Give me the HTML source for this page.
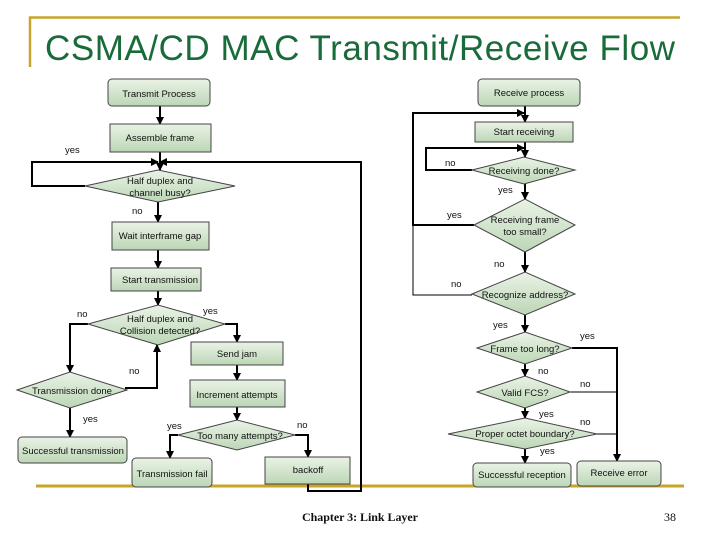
<!DOCTYPE html>
<html><head><meta charset="utf-8"><style>
html,body{margin:0;padding:0;background:#fff}
svg{display:block}
text{font-family:"Liberation Sans",sans-serif;font-size:9.5px;fill:#111}
.t{text-anchor:middle}
</style></head><body>
<svg width="720" height="540" viewBox="0 0 720 540" xmlns="http://www.w3.org/2000/svg">
<defs>
<linearGradient id="g" x1="0" y1="0" x2="0" y2="1"><stop offset="0" stop-color="#eaf3e6"/><stop offset="1" stop-color="#bcd6b6"/></linearGradient>
<marker id="a" markerWidth="8" markerHeight="8" refX="7" refY="4" orient="auto" markerUnits="userSpaceOnUse"><path d="M0,0 L8,4 L0,8 z" fill="#000"/></marker>
</defs>
<!-- frame -->
<path d="M30,67 V17.5 H680" stroke="#c7a52d" stroke-width="2.5" fill="none"/>
<line x1="36" y1="486" x2="684" y2="486" stroke="#c7a52d" stroke-width="3"/>
<text x="45" y="60" style="font-size:35px;fill:#1a6b3a" textLength="630">CSMA/CD MAC Transmit/Receive Flow</text>
<text x="302" y="521" style="font-family:'Liberation Serif',serif;font-weight:bold;font-size:12px" textLength="116">Chapter 3: Link Layer</text>
<text x="664" y="521" style="font-family:'Liberation Serif',serif;font-size:12px">38</text>

<g stroke="#000" stroke-width="2" fill="none">
<!-- transmit connectors -->
<line x1="160" y1="106" x2="160" y2="124" marker-end="url(#a)"/>
<line x1="160" y1="152" x2="160" y2="170" marker-end="url(#a)"/>
<path d="M85,186 H32 V162 H158" marker-end="url(#a)"/>
<line x1="158" y1="202" x2="158" y2="222" marker-end="url(#a)"/>
<line x1="158" y1="250" x2="158" y2="268" marker-end="url(#a)"/>
<line x1="158" y1="291" x2="158" y2="305" marker-end="url(#a)"/>
<path d="M88,324 H70 V372" marker-end="url(#a)"/>
<path d="M125,388 H157 V345" marker-end="url(#a)"/>
<line x1="70" y1="408" x2="70" y2="437" marker-end="url(#a)"/>
<path d="M225,324 H237 V342" marker-end="url(#a)"/>
<line x1="237" y1="365" x2="237" y2="380" marker-end="url(#a)"/>
<line x1="237" y1="407" x2="237" y2="420" marker-end="url(#a)"/>
<path d="M178,435 H170 V458" marker-end="url(#a)"/>
<path d="M295,435 H308 V457" marker-end="url(#a)"/>
<path d="M308,484 V491 H361 V162 H160" marker-end="url(#a)"/>
<!-- receive connectors -->
<line x1="525" y1="106" x2="525" y2="122" marker-end="url(#a)"/>
<path d="M474,225 H413 V113 H524" marker-end="url(#a)"/>
<path d="M472,295 H413 V225" stroke-width="1"/>
<line x1="525" y1="142" x2="525" y2="157" marker-end="url(#a)"/>
<path d="M472,170 H426 V148 H524" marker-end="url(#a)"/>
<line x1="525" y1="184" x2="525" y2="199" marker-end="url(#a)"/>
<line x1="525" y1="252" x2="525" y2="272" marker-end="url(#a)"/>
<line x1="525" y1="315" x2="525" y2="332" marker-end="url(#a)"/>
<line x1="525" y1="364" x2="525" y2="376" marker-end="url(#a)"/>
<line x1="525" y1="408" x2="525" y2="418" marker-end="url(#a)"/>
<line x1="525" y1="449" x2="525" y2="463" marker-end="url(#a)"/>
<path d="M572,348 H617 V461" marker-end="url(#a)"/>
<line x1="570" y1="392" x2="617" y2="392" stroke-width="1"/>
<line x1="597" y1="434" x2="617" y2="434" stroke-width="1"/>
</g>

<g fill="url(#g)" stroke="#444" stroke-width="1">
<!-- rounded terminals -->
<rect x="108" y="79" width="102" height="27" rx="4"/>
<rect x="478" y="79" width="102" height="27" rx="4"/>
<rect x="18" y="437" width="109" height="26" rx="4"/>
<rect x="132" y="458" width="80" height="29" rx="4"/>
<rect x="473" y="463" width="98" height="24" rx="4"/>
<rect x="577" y="461" width="84" height="25" rx="4"/>
<!-- process boxes -->
<rect x="110" y="124" width="101" height="28"/>
<rect x="112" y="222" width="97" height="28"/>
<rect x="111" y="268" width="90" height="23"/>
<rect x="191" y="342" width="92" height="23"/>
<rect x="190" y="380" width="95" height="27"/>
<rect x="265" y="457" width="85" height="27"/>
<rect x="475" y="122" width="98" height="20"/>
<!-- diamonds -->
<polygon points="85,186 158,170 235,186 158,202"/>
<polygon points="88,324 158,305 225,324 158,345"/>
<polygon points="17,390 70,372 127,390 70,408"/>
<polygon points="178,435 237,420 295,435 237,450"/>
<polygon points="472,170 524,157 575,170 524,184"/>
<polygon points="474,225 525,199 575,225 525,252"/>
<polygon points="472,294 525,272 575,294 525,315"/>
<polygon points="477,348 525,332 572,348 525,364"/>
<polygon points="477,392 525,376 570,392 525,408"/>
<polygon points="448,434 525,418 597,434 525,449"/>
</g>

<!-- node labels -->
<text class="t" x="159" y="97">Transmit Process</text>
<text class="t" x="529" y="96">Receive process</text>
<text class="t" x="160" y="141">Assemble frame</text>
<text class="t" x="160" y="184">Half duplex and</text>
<text class="t" x="160" y="196">channel busy?</text>
<text class="t" x="160" y="239">Wait interframe gap</text>
<text class="t" x="160" y="283">Start transmission</text>
<text class="t" x="160" y="322">Half duplex and</text>
<text class="t" x="160" y="334">Collision detected?</text>
<text class="t" x="237" y="357">Send jam</text>
<text class="t" x="237" y="398">Increment attempts</text>
<text class="t" x="72" y="394">Transmission done</text>
<text class="t" x="240" y="439">Too many attempts?</text>
<text class="t" x="73" y="454">Successful transmission</text>
<text class="t" x="172" y="477">Transmission fail</text>
<text class="t" x="308" y="473">backoff</text>
<text class="t" x="524" y="135">Start receiving</text>
<text class="t" x="524" y="174">Receiving done?</text>
<text class="t" x="525" y="223">Receiving frame</text>
<text class="t" x="525" y="235">too small?</text>
<text class="t" x="525" y="298">Recognize address?</text>
<text class="t" x="525" y="352">Frame too long?</text>
<text class="t" x="525" y="396">Valid FCS?</text>
<text class="t" x="525" y="437">Proper octet boundary?</text>
<text class="t" x="522" y="478">Successful reception</text>
<text class="t" x="619" y="476">Receive error</text>

<!-- edge labels -->
<text x="65" y="153">yes</text>
<text x="132" y="214">no</text>
<text x="77" y="317">no</text>
<text x="203" y="314">yes</text>
<text x="129" y="374">no</text>
<text x="83" y="422">yes</text>
<text x="167" y="429">yes</text>
<text x="297" y="428">no</text>
<text x="445" y="166">no</text>
<text x="498" y="193">yes</text>
<text x="447" y="218">yes</text>
<text x="494" y="267">no</text>
<text x="451" y="287">no</text>
<text x="493" y="328">yes</text>
<text x="580" y="339">yes</text>
<text x="538" y="374">no</text>
<text x="580" y="387">no</text>
<text x="539" y="417">yes</text>
<text x="580" y="425">no</text>
<text x="540" y="454">yes</text>
</svg>
</body></html>
